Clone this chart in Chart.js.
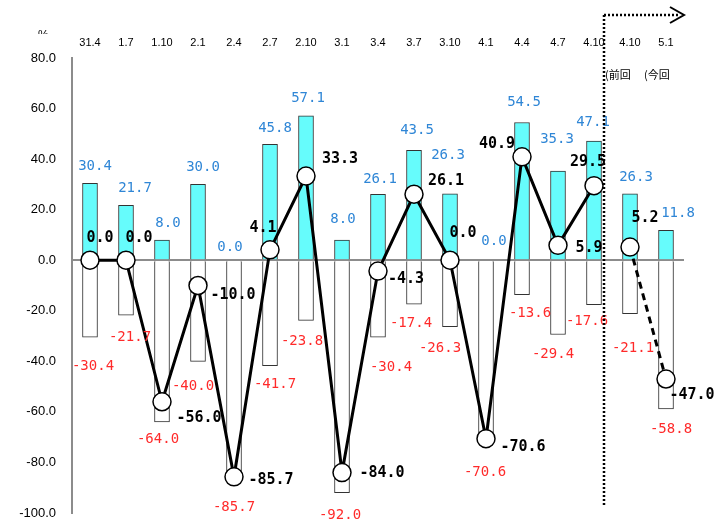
<!DOCTYPE html>
<html>
<head>
<meta charset="utf-8">
<script src="https://cdn.jsdelivr.net/npm/chart.js@4"></script>
<style>
  body { margin: 0; background: #fff; }
  #wrap { width: 714px; height: 524px; }
</style>
</head>
<body>
<div id="wrap"><canvas id="myChart"></canvas></div>
<script>
// data
var periods = ['31.4', '1.7', '1.10', '2.1', '2.4', '2.7', '2.10', '3.1', '3.4', '3.7', '3.10', '4.1', '4.4', '4.7', '4.10', '4.10', '5.1'];
var upValues = [30.4, 21.7, 8.0, 30.0, 0.0, 45.8, 57.1, 8.0, 26.1, 43.5, 26.3, 0.0, 54.5, 35.3, 47.1, 26.3, 11.8];
var downValues = [-30.4, -21.7, -64.0, -40.0, -85.7, -41.7, -23.8, -92.0, -30.4, -17.4, -26.3, -70.6, -13.6, -29.4, -17.6, -21.1, -58.8];
var diValues = [0.0, 0.0, -56.0, -10.0, -85.7, 4.1, 33.3, -84.0, -4.3, 26.1, 0.0, -70.6, 40.9, 5.9, 29.5, 5.2, -47.0];
var yTicks = [80, 60, 40, 20, 0, -20, -40, -60, -80, -100];

// label nudges (dx, dy) so they sit like the original
var upOff = [[5,-17],[9,-17],[6,-17],[5,-17],[-4,-13],[5,-16],[2,-18],[1,-21],[2,-15],[3,-20],[-2,-38],[8,-19],[2,-20],[-1,-32],[-1,-19],[6,-16],[12,-17]];
var downOff = [[3,29],[4,22],[-4,17],[-5,25],[0,31],[5,19],[-4,21],[-2,23],[13,30],[-3,19],[-10,22],[-1,34],[8,19],[-5,20],[-7,17],[3,35],[5,21]];
var diOff = [[10,-22],[13,-22],[37,16],[35,10],[37,3],[-7,-22],[34,-17],[40,1],[28,8],[32,-13],[13,-27],[37,8],[-25,-13],[31,3],[-6,-24],[15,-29],[26,16]];

var valueLabels = {
    id: 'valueLabels',
    afterDatasetsDraw: function(chart) {
        var ctx = chart.ctx;
        var metaUp = chart.getDatasetMeta(1);
        var metaDown = chart.getDatasetMeta(2);
        var metaDi = chart.getDatasetMeta(0);
        ctx.save();
        ctx.textAlign = 'center';
        ctx.textBaseline = 'middle';
        ctx.font = '14px "DejaVu Sans Mono"';
        ctx.fillStyle = '#2f86d6';
        metaUp.data.forEach(function(bar, i) {
            ctx.fillText(upValues[i].toFixed(1), bar.x + upOff[i][0], bar.y + upOff[i][1]);
        });
        ctx.fillStyle = '#ff2a2a';
        metaDown.data.forEach(function(bar, i) {
            ctx.fillText(downValues[i].toFixed(1), bar.x + downOff[i][0], bar.y + downOff[i][1]);
        });
        ctx.font = 'bold 15px "DejaVu Sans Mono"';
        ctx.fillStyle = '#000';
        metaDi.data.forEach(function(pt, i) {
            ctx.fillText(diValues[i].toFixed(1), pt.x + diOff[i][0], pt.y + diOff[i][1]);
        });
        ctx.restore();
    },
    afterDraw: function(chart) {
        var ctx = chart.ctx;
        var xs = chart.scales.x;
        var area = chart.chartArea;
        var lx = xs.getPixelForValue(14) + 10;
        ctx.save();
        // dotted divider with arrow
        ctx.strokeStyle = '#000';
        ctx.lineWidth = 2.5;
        ctx.setLineDash([2, 2]);
        ctx.beginPath();
        ctx.moveTo(lx, 15);
        ctx.lineTo(lx, area.bottom - 8);
        ctx.moveTo(lx, 15);
        ctx.lineTo(lx + 74, 15);
        ctx.stroke();
        ctx.setLineDash([]);
        ctx.lineWidth = 2;
        ctx.beginPath();
        ctx.moveTo(lx + 66, 7);
        ctx.lineTo(lx + 80, 15);
        ctx.lineTo(lx + 66, 23);
        ctx.stroke();
        // previous / current
        ctx.fillStyle = '#000';
        ctx.font = '11px "Noto Sans CJK JP"';
        ctx.textBaseline = 'middle';
        ctx.textAlign = 'left';
        ctx.fillText('(前回', lx + 1, 75);
        ctx.fillText('(今回', xs.getPixelForValue(16) - 22, 75);
        // unit, mostly cut off in the original
        ctx.beginPath();
        ctx.rect(30, 26, 30, 8);
        ctx.clip();
        ctx.font = '12px "Liberation Sans"';
        ctx.fillText('%', 38, 36);
        ctx.restore();
    }
};

var ctx = document.getElementById('myChart').getContext('2d');
var myChart = new Chart(ctx, {
    type: 'bar',
    data: {
        labels: periods,
        datasets: [{
            type: 'line',
            data: diValues,
            borderColor: '#000',
            borderWidth: 3,
            pointRadius: 9,
            pointBackgroundColor: '#fff',
            pointBorderColor: '#000',
            pointBorderWidth: 1.5,
            tension: 0,
            order: 0,
            segment: {
                borderColor: function(c) { return c.p0DataIndex === 14 ? 'rgba(0,0,0,0)' : '#000'; },
                borderDash: function(c) { return c.p0DataIndex === 15 ? [7, 5] : undefined; }
            }
        }, {
            data: upValues,
            backgroundColor: '#66fcfc',
            borderColor: '#333',
            borderWidth: 1,
            barThickness: 15,
            grouped: false,
            order: 1
        }, {
            data: downValues,
            backgroundColor: '#fff',
            borderColor: '#333',
            borderWidth: 1,
            barThickness: 15,
            grouped: false,
            order: 2
        }]
    },
    options: {
        responsive: true,
        maintainAspectRatio: false,
        animation: false,
        layout: { padding: { left: 0, right: 30, top: 0, bottom: 11 } },
        plugins: { legend: { display: false }, tooltip: { enabled: false } },
        scales: {
            x: {
                position: 'top',
                grid: { display: false, drawTicks: false },
                border: { display: false },
                ticks: { color: '#000', font: { family: 'Liberation Sans', size: 11 }, padding: 8, maxRotation: 0, autoSkip: false },
                afterFit: function(scale) { scale.height = 58; }
            },
            y: {
                min: -100,
                max: 80,
                afterBuildTicks: function(scale) { scale.ticks = yTicks.map(function(v) { return { value: v }; }); },
                grid: {
                    drawTicks: false,
                    color: function(c) { return c.tick && c.tick.value === 0 ? '#8c8c8c' : 'rgba(0,0,0,0)'; },
                    lineWidth: 2
                },
                border: { color: '#8c8c8c', width: 2 },
                ticks: {
                    color: '#000',
                    padding: 16,
                    font: { family: 'Liberation Sans', size: 13 },
                    callback: function(v) { return Number(v).toFixed(1); }
                },
                afterFit: function(scale) {
                    scale.width = 72;
                    scale.paddingTop = 0;
                    scale.paddingBottom = 0;
                }
            }
        }
    },
    plugins: [valueLabels]
});
</script>
</body>
</html>
